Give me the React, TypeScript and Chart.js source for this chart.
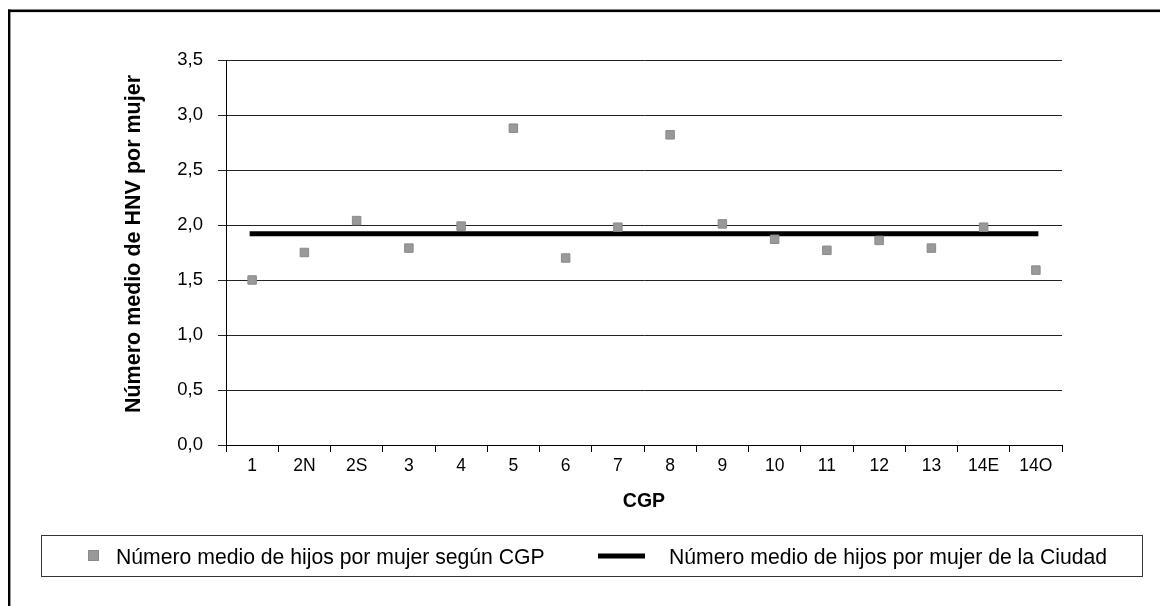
import React, { useEffect, useRef } from "react";
import { Chart, registerables } from "chart.js";

Chart.register(...registerables);

const categories = ["1", "2N", "2S", "3", "4", "5", "6", "7", "8", "9", "10", "11", "12", "13", "14E", "14O"];
const cgpValues = [1.5, 1.75, 2.04, 1.79, 1.99, 2.88, 1.7, 1.98, 2.82, 2.01, 1.87, 1.77, 1.86, 1.79, 1.98, 1.59];
const cityValues = [1.92, 1.92, 1.92, 1.92, 1.92, 1.92, 1.92, 1.92, 1.92, 1.92, 1.92, 1.92, 1.92, 1.92, 1.92, 1.92];
const seriesLabels = ["Número medio de hijos por mujer según CGP", "Número medio de hijos por mujer de la Ciudad"];
const yAxisTitle = "Número medio de HNV por mujer";
const xAxisTitle = "CGP";

const FONT = "'Liberation Sans', Arial, sans-serif";

const framePlugin = {
  id: "frameAndLegend",
  beforeDraw(chart: any) {
    const ctx = chart.ctx;
    ctx.save();
    ctx.fillStyle = "#ffffff";
    ctx.fillRect(0, 0, chart.width, chart.height);
    ctx.fillStyle = "#000000";
    ctx.fillRect(0, 1.5, chart.width, 2.6);
    ctx.fillRect(0, 1.5, 2.4, chart.height);
    ctx.restore();
  },
  afterDraw(chart: any) {
    const ctx = chart.ctx;
    const ds = chart.data.datasets;
    ctx.save();
    // y axis title
    ctx.save();
    ctx.translate(126, 236);
    ctx.rotate(-Math.PI / 2);
    ctx.font = `bold 21.5px ${FONT}`;
    ctx.textAlign = "center";
    ctx.textBaseline = "middle";
    ctx.fillStyle = "#000000";
    ctx.fillText(yAxisTitle, 0, 0);
    ctx.restore();
    // legend box
    ctx.strokeStyle = "#333333";
    ctx.lineWidth = 1;
    ctx.strokeRect(33.5, 527.5, 1101, 41);
    // item 1: square marker
    ctx.fillStyle = ds[0].backgroundColor;
    ctx.strokeStyle = ds[0].borderColor;
    ctx.fillRect(80, 542, 11, 11);
    ctx.strokeRect(80.5, 542.5, 10, 10);
    ctx.font = `21.2px ${FONT}`;
    ctx.textBaseline = "alphabetic";
    ctx.textAlign = "left";
    ctx.fillStyle = "#000000";
    ctx.fillText(ds[0].label, 108, 556);
    // item 2: line
    ctx.strokeStyle = ds[1].borderColor;
    ctx.lineWidth = 5;
    ctx.beginPath();
    ctx.moveTo(590, 548);
    ctx.lineTo(637, 548);
    ctx.stroke();
    ctx.fillText(ds[1].label, 661, 556);
    ctx.restore();
  },
};

export default function App() {
  const canvasRef = useRef<HTMLCanvasElement | null>(null);

  useEffect(() => {
    if (!canvasRef.current) return;
    const chart = new Chart(canvasRef.current, {
      type: "line",
      data: {
        labels: categories,
        datasets: [
          {
            label: seriesLabels[0],
            data: cgpValues,
            showLine: false,
            pointStyle: "rect",
            pointRadius: 6,
            pointHoverRadius: 6,
            pointBorderWidth: 1,
            backgroundColor: "#999999",
            borderColor: "#8a8a8a",
            order: 0,
          },
          {
            label: seriesLabels[1],
            data: cityValues,
            borderColor: "#000000",
            backgroundColor: "#000000",
            borderWidth: 5,
            borderCapStyle: "square",
            pointRadius: 0,
            pointHoverRadius: 0,
            fill: false,
            order: 1,
          },
        ],
      },
      options: {
        animation: false,
        responsive: false,
        maintainAspectRatio: false,
        layout: { padding: { left: 112, right: 106, top: 52, bottom: 96 } },
        plugins: { legend: { display: false }, tooltip: { enabled: false } },
        scales: {
          x: {
            offset: true,
            grid: {
              offset: true,
              drawOnChartArea: false,
              drawTicks: true,
              tickLength: 7,
              color: "#000000",
              lineWidth: 1,
            },
            border: { display: true, color: "#000000", width: 1 },
            ticks: { color: "#000000", font: { family: FONT, size: 17.5 }, padding: 4, maxRotation: 0, autoSkip: false },
            title: {
              display: true,
              text: xAxisTitle,
              color: "#000000",
              font: { family: FONT, size: 19.5, weight: "bold" },
              padding: { top: 0, bottom: -3 },
            },
            afterFit: (scale: any) => {
              scale.height = 65;
            },
          },
          y: {
            min: 0,
            max: 3.5,
            ticks: {
              stepSize: 0.5,
              color: "#000000",
              font: { family: FONT, size: 18.5 },
              padding: 15,
              callback: (v: any) => Number(v).toFixed(1).replace(".", ","),
            },
            grid: { color: "#222222", lineWidth: 1, tickLength: 8, drawTicks: true },
            border: { display: true, color: "#000000", width: 1 },
            title: { display: false },
            afterFit: (scale: any) => {
              scale.width = 106;
            },
          },
        },
      },
      plugins: [framePlugin],
    });
    return () => chart.destroy();
  }, []);

  return (
    <div style={{ width: 1160, height: 598 }}>
      <canvas ref={canvasRef} width={1160} height={598} style={{ display: "block" }} />
    </div>
  );
}
